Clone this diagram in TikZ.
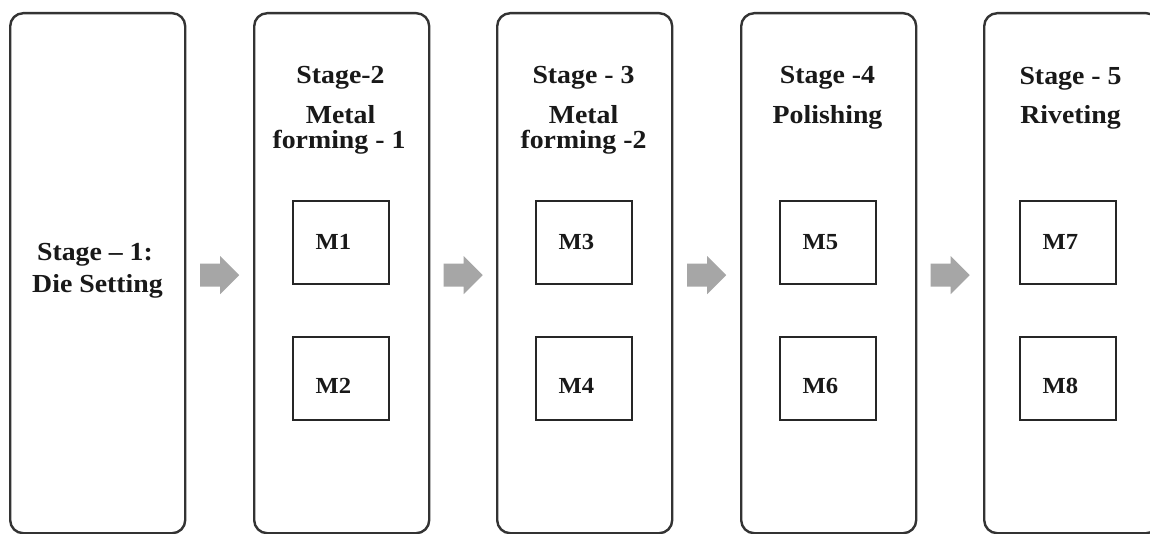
\documentclass[tikz,border=0pt]{standalone}
\usepackage{fontspec}
\setmainfont{Liberation Serif}[FakeStretch=1.07]
\usetikzlibrary{calc}
\begin{document}
\begin{tikzpicture}[x=1pt,y=-1pt,
  stagebox/.style={draw=black!80, line width=2.4pt, rounded corners=13pt,
    minimum width=175pt, minimum height=520pt, inner sep=0pt, anchor=north west},
  mbox/.style={draw=black!85, line width=2pt, minimum width=96pt,
    minimum height=83pt, inner sep=0pt},
  mtext/.style={font=\fontsize{23}{23}\bfseries\selectfont, inner sep=0pt, text=black!90},
  title/.style={font=\fontsize{26}{26}\bfseries\selectfont, inner sep=0pt,
    anchor=base, text=black!90},
  flowarrow/.pic={
    \fill[black!35] (-19.5,-11.5) -- (0.5,-11.5) -- (0.5,-19) -- (19.5,0)
      -- (0.5,19) -- (0.5,11.5) -- (-19.5,11.5) -- cycle;}]
\useasboundingbox (0,0) rectangle (1150,534);
\fill[white] (0,0) rectangle (1150,534);

% stage columns
\node[stagebox] (s1) at (9,12) {};
\node[stagebox] (s2) at (253,12) {};
\node[stagebox] (s3) at (496,12) {};
\node[stagebox] (s4) at (740,12) {};
\node[stagebox] (s5) at (983,12) {};

% stage titles
\node[title] (t1a) at (95,261) {Stage – 1:};
\node[title] (t1b) at (97.5,293) {Die Setting};

\node[title] (t2a) at (340.5,84) {Stage-2};
\node[title] (t2b) at (340.5,124) {Metal};
\node[title] (t2c) at (339,149) {forming - 1};

\node[title] (t3a) at (583.5,84) {Stage - 3};
\node[title] (t3b) at (583.5,124) {Metal};
\node[title] (t3c) at (583.5,149) {forming -2};

\node[title] (t4a) at (827.5,84) {Stage -4};
\node[title] (t4b) at (827.5,124) {Polishing};

\node[title] (t5a) at (1070.5,85) {Stage - 5};
\node[title] (t5b) at (1070.5,124) {Riveting};

% machines
\foreach \x/\a/\b in {340.5/1/2, 583.5/3/4, 827.5/5/6, 1067.5/7/8}{
  \node[mbox] (m\a) at (\x,243) {};
  \node[mbox] (m\b) at (\x,378) {};
  \node[mtext] (l\a) at ($(m\a.center)+(-7,-1)$) {M\a};
  \node[mtext] (l\b) at ($(m\b.center)+(-7,8)$) {M\b};
}

% flow arrows between stages
\coordinate (a12) at ($(s1.east)!0.5!(s2.west)+(0,2)$);
\coordinate (a23) at ($(s2.east)!0.5!(s3.west)+(0,2)$);
\coordinate (a34) at ($(s3.east)!0.5!(s4.west)+(0,2)$);
\coordinate (a45) at ($(s4.east)!0.5!(s5.west)+(0,2)$);
\foreach \c in {a12,a23,a34,a45}{\pic at (\c) {flowarrow};}
\end{tikzpicture}
\end{document}
